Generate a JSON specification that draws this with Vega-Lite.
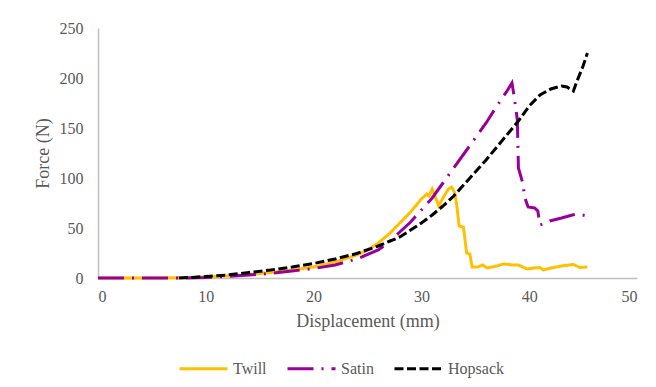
{
  "$schema": "https://vega.github.io/schema/vega-lite/v6.json",
  "width": 539,
  "height": 250,
  "autosize": {"type": "none"},
  "padding": {"left": 98, "top": 28, "right": 19, "bottom": 109},
  "background": "white",
  "config": {
    "view": {"stroke": null},
    "font": "Liberation Serif"
  },
  "data": {
    "values": [
      {"s": "Twill", "x": 0, "y": 0},
      {"s": "Twill", "x": 5, "y": 0},
      {"s": "Twill", "x": 8, "y": 0.3},
      {"s": "Twill", "x": 10, "y": 1},
      {"s": "Twill", "x": 12, "y": 2},
      {"s": "Twill", "x": 14, "y": 3.5},
      {"s": "Twill", "x": 16, "y": 5.5},
      {"s": "Twill", "x": 18, "y": 8},
      {"s": "Twill", "x": 20, "y": 11},
      {"s": "Twill", "x": 22, "y": 16},
      {"s": "Twill", "x": 24, "y": 23},
      {"s": "Twill", "x": 25, "y": 28},
      {"s": "Twill", "x": 26, "y": 35},
      {"s": "Twill", "x": 27, "y": 44},
      {"s": "Twill", "x": 28, "y": 55},
      {"s": "Twill", "x": 29, "y": 66},
      {"s": "Twill", "x": 30, "y": 79},
      {"s": "Twill", "x": 30.5, "y": 84},
      {"s": "Twill", "x": 30.7, "y": 82},
      {"s": "Twill", "x": 31, "y": 89},
      {"s": "Twill", "x": 31.3, "y": 81},
      {"s": "Twill", "x": 31.6, "y": 72},
      {"s": "Twill", "x": 32, "y": 80},
      {"s": "Twill", "x": 32.5, "y": 89},
      {"s": "Twill", "x": 32.8, "y": 91},
      {"s": "Twill", "x": 33.1, "y": 85},
      {"s": "Twill", "x": 33.3, "y": 71},
      {"s": "Twill", "x": 33.5, "y": 52},
      {"s": "Twill", "x": 33.9, "y": 51},
      {"s": "Twill", "x": 34.2, "y": 25},
      {"s": "Twill", "x": 34.5, "y": 24},
      {"s": "Twill", "x": 34.7, "y": 11},
      {"s": "Twill", "x": 35.2, "y": 11},
      {"s": "Twill", "x": 35.7, "y": 13},
      {"s": "Twill", "x": 36.1, "y": 10},
      {"s": "Twill", "x": 37, "y": 12},
      {"s": "Twill", "x": 37.6, "y": 14},
      {"s": "Twill", "x": 38.5, "y": 13},
      {"s": "Twill", "x": 39, "y": 13},
      {"s": "Twill", "x": 39.8, "y": 9},
      {"s": "Twill", "x": 40.5, "y": 10},
      {"s": "Twill", "x": 41, "y": 10.5},
      {"s": "Twill", "x": 41.3, "y": 8},
      {"s": "Twill", "x": 42, "y": 10},
      {"s": "Twill", "x": 43, "y": 12},
      {"s": "Twill", "x": 44.1, "y": 13.5},
      {"s": "Twill", "x": 44.7, "y": 10.5},
      {"s": "Twill", "x": 45.4, "y": 11},
      {"s": "Satin", "x": 0, "y": 0},
      {"s": "Satin", "x": 5, "y": 0},
      {"s": "Satin", "x": 8, "y": 0},
      {"s": "Satin", "x": 10, "y": 0.5},
      {"s": "Satin", "x": 12, "y": 1.5},
      {"s": "Satin", "x": 14, "y": 3},
      {"s": "Satin", "x": 16, "y": 4.5},
      {"s": "Satin", "x": 18, "y": 7},
      {"s": "Satin", "x": 20, "y": 9.5},
      {"s": "Satin", "x": 22, "y": 13},
      {"s": "Satin", "x": 24, "y": 19},
      {"s": "Satin", "x": 26, "y": 28},
      {"s": "Satin", "x": 27, "y": 36},
      {"s": "Satin", "x": 28, "y": 46},
      {"s": "Satin", "x": 29, "y": 56},
      {"s": "Satin", "x": 30, "y": 68},
      {"s": "Satin", "x": 31, "y": 80},
      {"s": "Satin", "x": 32, "y": 95},
      {"s": "Satin", "x": 33, "y": 110},
      {"s": "Satin", "x": 34, "y": 125},
      {"s": "Satin", "x": 35, "y": 140},
      {"s": "Satin", "x": 36, "y": 155},
      {"s": "Satin", "x": 37, "y": 172},
      {"s": "Satin", "x": 38, "y": 188},
      {"s": "Satin", "x": 38.4, "y": 195},
      {"s": "Satin", "x": 38.6, "y": 182},
      {"s": "Satin", "x": 38.9, "y": 158},
      {"s": "Satin", "x": 39.0, "y": 110},
      {"s": "Satin", "x": 39.4, "y": 95},
      {"s": "Satin", "x": 39.6, "y": 80},
      {"s": "Satin", "x": 39.9, "y": 71},
      {"s": "Satin", "x": 40.5, "y": 70},
      {"s": "Satin", "x": 40.8, "y": 67},
      {"s": "Satin", "x": 41.0, "y": 53},
      {"s": "Satin", "x": 41.9, "y": 57},
      {"s": "Satin", "x": 43, "y": 60},
      {"s": "Satin", "x": 44, "y": 63},
      {"s": "Satin", "x": 44.5, "y": 64},
      {"s": "Satin", "x": 45.4, "y": 62},
      {"s": "Hopsack", "x": 7.5, "y": 0},
      {"s": "Hopsack", "x": 9, "y": 0.8},
      {"s": "Hopsack", "x": 10, "y": 1.5},
      {"s": "Hopsack", "x": 12, "y": 3},
      {"s": "Hopsack", "x": 14, "y": 5.5},
      {"s": "Hopsack", "x": 16, "y": 8},
      {"s": "Hopsack", "x": 18, "y": 11},
      {"s": "Hopsack", "x": 20, "y": 14.5},
      {"s": "Hopsack", "x": 22, "y": 19},
      {"s": "Hopsack", "x": 24, "y": 24.5},
      {"s": "Hopsack", "x": 26, "y": 32},
      {"s": "Hopsack", "x": 28, "y": 41},
      {"s": "Hopsack", "x": 30, "y": 55},
      {"s": "Hopsack", "x": 31, "y": 63},
      {"s": "Hopsack", "x": 32, "y": 72},
      {"s": "Hopsack", "x": 33, "y": 82},
      {"s": "Hopsack", "x": 34, "y": 94},
      {"s": "Hopsack", "x": 35, "y": 106},
      {"s": "Hopsack", "x": 36, "y": 118},
      {"s": "Hopsack", "x": 37, "y": 131},
      {"s": "Hopsack", "x": 38, "y": 144},
      {"s": "Hopsack", "x": 39, "y": 157},
      {"s": "Hopsack", "x": 40, "y": 172},
      {"s": "Hopsack", "x": 41, "y": 183},
      {"s": "Hopsack", "x": 42, "y": 189},
      {"s": "Hopsack", "x": 43, "y": 192},
      {"s": "Hopsack", "x": 43.5, "y": 191},
      {"s": "Hopsack", "x": 44.1, "y": 187},
      {"s": "Hopsack", "x": 44.4, "y": 196},
      {"s": "Hopsack", "x": 45, "y": 212},
      {"s": "Hopsack", "x": 45.4, "y": 225}
    ]
  },
  "mark": {"type": "line", "strokeWidth": 3, "strokeCap": "butt", "interpolate": "linear"},
  "encoding": {
    "x": {
      "field": "x", "type": "quantitative",
      "scale": {"domain": [0, 50], "nice": false},
      "axis": {
        "values": [0, 10, 20, 30, 40, 50], "labelPadding": 10,
        "title": "Displacement (mm)", "titlePadding": 8,
        "labelFont": "Liberation Serif", "titleFont": "Liberation Serif",
        "labelFontSize": 16, "titleFontSize": 18, "labelColor": "#595959", "titleColor": "#595959",
        "titleFontWeight": "normal", "domainColor": "#BFBFBF", "domainWidth": 1.5,
        "ticks": false, "grid": false
      }
    },
    "y": {
      "field": "y", "type": "quantitative",
      "scale": {"domain": [0, 250], "nice": false},
      "axis": {
        "values": [0, 50, 100, 150, 200, 250], "labelPadding": 15,
        "title": "Force (N)", "titlePadding": 7,
        "labelFont": "Liberation Serif", "titleFont": "Liberation Serif",
        "labelFontSize": 16, "titleFontSize": 18, "labelColor": "#595959", "titleColor": "#595959",
        "titleFontWeight": "normal", "domainColor": "#BFBFBF", "domainWidth": 1.5,
        "ticks": false, "grid": false
      }
    },
    "color": {
      "field": "s", "type": "nominal",
      "scale": {"domain": ["Twill", "Satin", "Hopsack"], "range": ["#FFC000", "#990099", "#000000"]},
      "legend": {
        "title": null,
        "orient": "none",
        "direction": "horizontal",
        "legendX": 80,
        "legendY": 315,
        "symbolType": "stroke",
        "symbolSize": 2304,
        "symbolStrokeWidth": 3,
        "labelOffset": 4,
        "columnPadding": 14,
        "labelFont": "Liberation Serif",
        "labelFontSize": 16,
        "labelColor": "#595959"
      }
    },
    "strokeDash": {
      "field": "s", "type": "nominal",
      "scale": {"domain": ["Twill", "Satin", "Hopsack"], "range": [[1, 0], [26, 8, 2, 8], [9, 3.5]]},
      "legend": {
        "title": null,
        "orient": "none",
        "direction": "horizontal",
        "legendX": 80,
        "legendY": 315,
        "symbolType": "stroke",
        "symbolSize": 2304,
        "symbolStrokeWidth": 3,
        "labelOffset": 4,
        "columnPadding": 14,
        "labelFont": "Liberation Serif",
        "labelFontSize": 16,
        "labelColor": "#595959"
      }
    },
    "order": {"field": "x", "type": "quantitative"}
  }
}
